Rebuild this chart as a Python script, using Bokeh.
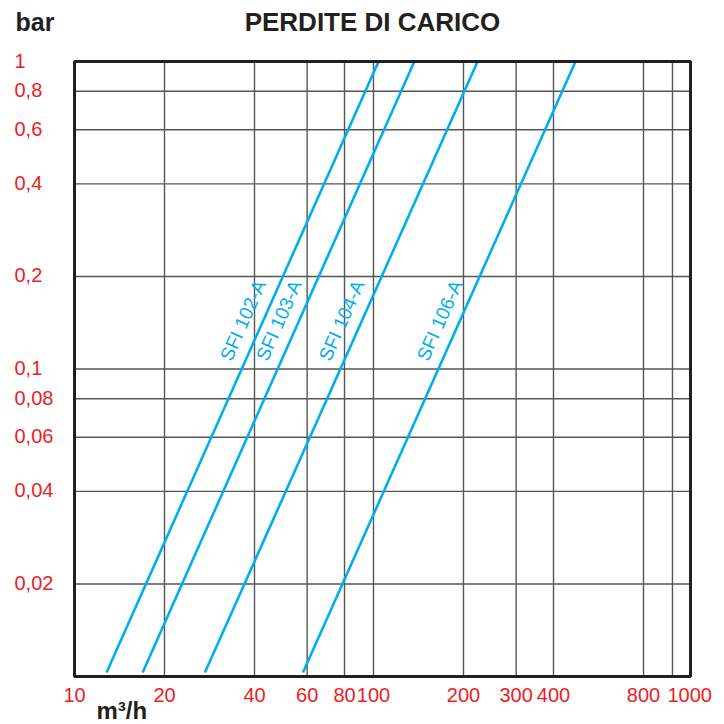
import math
from bokeh.plotting import figure
from bokeh.models import Range1d
from bokeh.core.properties import value
from bokeh.embed import file_html
from bokeh.resources import INLINE

# ---- data ----
x_ticks = [10, 20, 40, 60, 80, 100, 200, 300, 400, 800, 1000]
x_tick_labels = ["10", "20", "40", "60", "80", "100", "200", "300", "400", "800", "1000"]
y_ticks = [1, 0.8, 0.6, 0.4, 0.2, 0.1, 0.08, 0.06, 0.04, 0.02]
y_tick_labels = ["1", "0,8", "0,6", "0,4", "0,2", "0,1", "0,08", "0,06", "0,04", "0,02"]

series = ["SFI 102-A", "SFI 103-A", "SFI 104-A", "SFI 106-A"]
flow_low = [12.8, 16.9, 27.3, 58.1]      # m3/h at lowest pressure drop
flow_high = [104, 137, 223, 474]         # m3/h at 1 bar
dp_low = [0.0103, 0.0103, 0.0103, 0.0103]
dp_high = [1.0, 1.0, 1.0, 1.0]
label_dp = 0.105

# ---- chart geometry ----
X0, X1 = 10, 1149       # axis extent (m3/h)
Y0, Y1 = 0.01, 1        # axis extent (bar)
W = H = 724
LEFT, RIGHT, TOP, BOTTOM = 74, 690, 61, 676   # frame edges in pixels

FONT = "Liberation Sans"
RED = "#ee1c25"
BLUE = "#00aeef"
DARK = "#231f20"
GRID = "#555555"

# extend the log ranges so that the whole canvas is the drawing area
ppd_x = (RIGHT - LEFT) / (math.log10(X1) - math.log10(X0))
ppd_y = (BOTTOM - TOP) / (math.log10(Y1) - math.log10(Y0))
xr = Range1d(10 ** (math.log10(X0) - LEFT / ppd_x), 10 ** (math.log10(X1) + (W - RIGHT) / ppd_x))
yr = Range1d(10 ** (math.log10(Y0) - (H - BOTTOM) / ppd_y), 10 ** (math.log10(Y1) + TOP / ppd_y))

p = figure(width=W, height=H, x_axis_type="log", y_axis_type="log",
           x_range=xr, y_range=yr,
           x_axis_location=None, y_axis_location=None,
           toolbar_location=None, output_backend="svg",
           min_border=0)
for g in p.grid:
    g.visible = False
p.background_fill_color = "white"
p.border_fill_color = "white"
p.outline_line_color = None

# grid lines
gx = [t for t in x_ticks if t != X0]
p.segment(x0=gx, y0=[Y0] * len(gx), x1=gx, y1=[Y1] * len(gx),
          line_color=GRID, line_width=1.4)
gy = [t for t in y_ticks if t != Y1]
p.segment(x0=[X0] * len(gy), y0=gy, x1=[X1] * len(gy), y1=gy,
          line_color=GRID, line_width=1.4)

# curves
for name, xl, xh, yl, yh in zip(series, flow_low, flow_high, dp_low, dp_high):
    p.line([xl, xh], [yl, yh], line_color=BLUE, line_width=2.6)
    t = (math.log10(label_dp) - math.log10(yl)) / (math.log10(yh) - math.log10(yl))
    lx = 10 ** (math.log10(xl) + t * (math.log10(xh) - math.log10(xl)))
    p.text(x=[lx], y=[label_dp], text=[name], angle=66, angle_units="deg",
           x_offset=-19, y_offset=-3, text_align="left", text_baseline="alphabetic",
           text_font=value(FONT), text_font_size="19px", text_color=BLUE)

# frame
p.quad(left=[X0], right=[X1], bottom=[Y0], top=[Y1], fill_color=None,
       line_color=DARK, line_width=3)

# x tick labels
xs = [v for v, s in zip(x_ticks, x_tick_labels) if s != "1000"]
xl_ = [s for s in x_tick_labels if s != "1000"]
p.text(x=xs, y=[Y0] * len(xs), text=xl_, y_offset=18,
       text_align="center", text_baseline="alphabetic",
       text_font=value(FONT), text_font_size="20px", text_color=RED)
p.text(x=[x_ticks[-1]], y=[Y0], text=[x_tick_labels[-1]], y_offset=18, x_offset=-5,
       text_align="left", text_baseline="alphabetic",
       text_font=value(FONT), text_font_size="20px", text_color=RED)

# y tick labels
p.text(x=[X0] * len(y_ticks), y=y_ticks, text=y_tick_labels, x_offset=-60, y_offset=-1,
       text_align="left", text_baseline="alphabetic",
       text_font=value(FONT), text_font_size="20px", text_color=RED)

# units and title
p.text(x=[X0], y=[Y1], text=["bar"], x_offset=-59, y_offset=-40,
       text_align="left", text_baseline="alphabetic",
       text_font=value(FONT), text_font_size="25px", text_font_style="bold",
       text_color=DARK)
p.text(x=[X0], y=[Y0], text=["m³/h"], x_offset=22, y_offset=34,
       text_align="left", text_baseline="alphabetic",
       text_font=value(FONT), text_font_size="24px", text_font_style="bold",
       text_color=DARK)
p.text(x=[math.sqrt(X0 * X1)], y=[Y1], text=["PERDITE DI CARICO"], x_offset=-10, y_offset=-40,
       text_align="center", text_baseline="alphabetic",
       text_font=value(FONT), text_font_size="26px", text_font_style="bold",
       text_color=DARK)

open("out.html", "w").write(file_html(p, INLINE))
